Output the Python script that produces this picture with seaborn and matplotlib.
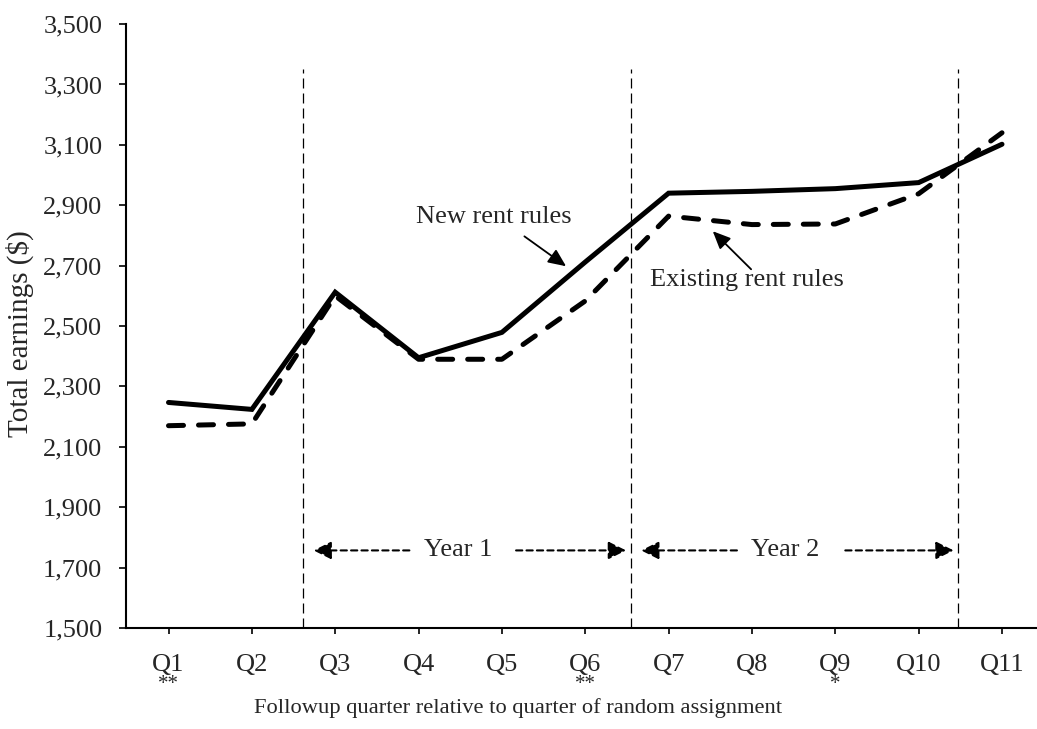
import matplotlib
matplotlib.use("Agg")
import matplotlib.pyplot as plt
import seaborn as sns
import pandas as pd
import numpy as np
from matplotlib.ticker import FuncFormatter

quarters = ["Q1", "Q2", "Q3", "Q4", "Q5", "Q6", "Q7", "Q8", "Q9", "Q10", "Q11"]
significance = ["**", "", "", "", "", "**", "", "", "*", "", ""]
new_rules = [2247, 2224, 2612, 2395, 2479, 2712, 2940, 2946, 2955, 2975, 3102]
existing_rules = [2170, 2176, 2600, 2390, 2390, 2583, 2864, 2836, 2838, 2938, 3140]
y_ticks = [1500, 1700, 1900, 2100, 2300, 2500, 2700, 2900, 3100, 3300, 3500]

sns.set_theme(style="white")
plt.rcParams['font.family'] = ['Liberation Serif', 'DejaVu Serif']

df = pd.DataFrame({
    "pos": list(range(len(quarters))) * 2,
    "value": new_rules + existing_rules,
    "series": ["New rent rules"] * len(quarters) + ["Existing rent rules"] * len(quarters),
})

fig = plt.figure(figsize=(10.37, 7.29), dpi=100)
ax = fig.add_axes([0.1215, 0.1385, 0.8785, 0.8285])

sns.lineplot(data=df, x="pos", y="value", style="series",
             dashes={"New rent rules": "", "Existing rent rules": (3, 3)},
             color="black", linewidth=3.6, legend=False, sort=False, ax=ax)
for ln in ax.lines:
    ln.set_dash_capstyle("round")
    ln.set_solid_joinstyle("miter")

ax.set_xlim(-0.51, 10.42)
ax.set_ylim(1500, 3500)
ax.set_yticks(y_ticks)
ax.yaxis.set_major_formatter(FuncFormatter(lambda v, p: f"{int(v):,}"))
ax.set_xticks(range(len(quarters)))
ax.set_xticklabels(quarters, fontsize=19)
ax.tick_params(axis="y", labelsize=19, direction="out", length=5, width=1.2, left=True,
               color="black", pad=12)
ax.tick_params(axis="x", direction="out", length=4.5, width=1.2, bottom=True, color="black", pad=14)

# significance markers under the quarter labels
for i, s in enumerate(significance):
    if s:
        ax.text(i, -0.093, s, transform=ax.get_xaxis_transform(), ha="center", va="center",
                fontsize=15)

for s in ["top", "right"]:
    ax.spines[s].set_visible(False)
for s in ["left", "bottom"]:
    ax.spines[s].set_color("black")
    ax.spines[s].set_linewidth(1.5)

ax.set_xlabel("Followup quarter relative to quarter of random assignment", fontsize=16.2)
ax.xaxis.set_label_coords(0.43, -0.132)
ax.xaxis.label.set_va("center")
ax.set_ylabel("Total earnings ($)", fontsize=21)
ax.yaxis.set_label_coords(-0.117, 0.487)
ax.yaxis.label.set_va("center")

# Vertical period separators
for xv in [1.61, 5.55, 9.47]:
    ax.plot([xv, xv], [1500, 3350], color="black", linewidth=0.9, linestyle=(0, (8, 4)))

# Year arrows
arrow_y = 1757
arrow_props = dict(arrowstyle="-|>,head_length=0.9,head_width=0.45", color="black",
                   linestyle=(0, (3, 2)), linewidth=1.5, shrinkA=0, shrinkB=0)
for tail, head in [(2.89, 1.74), (4.17, 5.49), (6.82, 5.67), (8.12, 9.42)]:
    ax.annotate("", xy=(head, arrow_y), xytext=(tail, arrow_y), arrowprops=arrow_props)
ax.text(3.48, arrow_y, "Year 1", ha="center", va="center", fontsize=19)
ax.text(7.40, arrow_y, "Year 2", ha="center", va="center", fontsize=19)

# Series labels
label_props = dict(arrowstyle="-|>,head_length=0.9,head_width=0.4", color="black",
                   linewidth=1.3, shrinkA=0, shrinkB=0)
ax.text(3.90, 2860, "New rent rules", ha="center", va="center", fontsize=19)
ax.annotate("", xy=(4.77, 2698), xytext=(4.27, 2797), arrowprops=label_props)
ax.text(6.94, 2652, "Existing rent rules", ha="center", va="center", fontsize=19)
ax.annotate("", xy=(6.53, 2814), xytext=(6.99, 2688), arrowprops=label_props)

fig.savefig("out.png", dpi=100)
